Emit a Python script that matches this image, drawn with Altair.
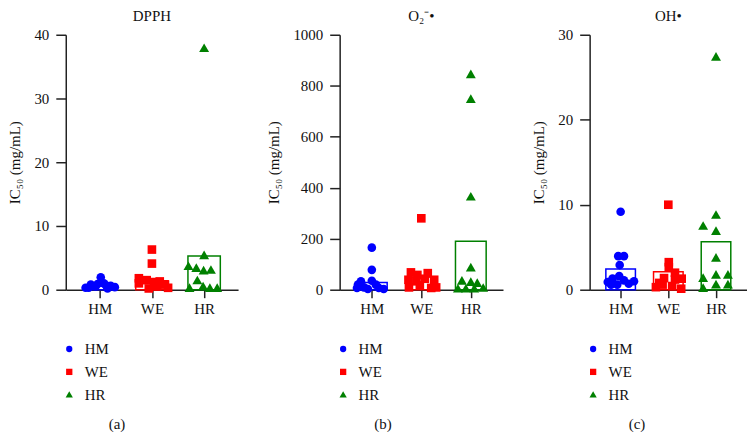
import altair as alt
import pandas as pd

groups = ['HM', 'WE', 'HR']
colors = ['#0000ff', '#ff0000', '#008000']
shapes = ['circle', 'square', 'M0,-1.1L1.15,0.9L-1.15,0.9Z']

# DPPH - IC50 values per sample and horizontal scatter (fraction of group spacing)
dpph_hm = [1.96, 0.3, 0.8, 0.5, 1.0, 0.2, 0.6, 0.4, 0.3, 0.7, 0.9]
dpph_hm_jit = [0.02, -0.27, -0.17, -0.08, 0.08, 0.15, 0.21, 0.29, -0.21, 0.12, -0.04]
dpph_we = [6.3, 4.1, 1.8, 1.5, 1.2, 1.3, 1.0, 0.8, 0.5, 0.2, 0.3]
dpph_we_jit = [0.0, 0.0, -0.25, -0.1, 0.04, 0.15, -0.25, 0.25, 0.1, -0.06, 0.31]
dpph_hr = [37.9, 5.4, 3.7, 3.4, 3.0, 3.1, 1.45, 0.26, 0.52, 0.26, 0.26]
dpph_hr_jit = [0.0, 0.0, -0.3, -0.15, -0.01, 0.13, -0.13, -0.28, -0.02, 0.11, 0.25]
dpph_bar = [0.6, 1.4, 5.3]

# O2-
o2_hm = [165, 78, 33, 35, 7, 9, 7, 3, 3, 20, 20]
o2_hm_jit = [0.0, 0.0, -0.22, 0.0, -0.3, -0.16, 0.14, 0.24, -0.08, 0.08, -0.28]
o2_we = [280, 68, 58, 65, 39, 33, 43, 39, 9, 17, 7, 9]
o2_we_jit = [0.0, -0.21, -0.08, 0.13, -0.26, -0.1, 0.07, 0.26, -0.25, -0.03, 0.2, 0.3]
o2_hr = [845, 748, 365, 87, 35, 30, 26, 7, 4, 4, 4]
o2_hr_jit = [0.0, 0.0, 0.0, 0.0, -0.18, 0.0, 0.13, 0.25, -0.26, -0.1, 0.07]
o2_bar = [28, 50, 190]

# OH
oh_hm = [9.18, 3.95, 3.95, 2.9, 0.9, 1.3, 1.6, 1.1, 0.6, 0.7, 1.0, 0.6]
oh_hm_jit = [0.0, -0.05, 0.07, -0.02, -0.27, -0.17, -0.03, 0.07, -0.07, 0.17, 0.28, -0.2]
oh_we = [10.0, 3.24, 2.66, 2.0, 1.37, 1.2, 1.3, 0.3, 0.6, 0.43, 0.12, 0.8]
oh_we_jit = [0.0, 0.01, 0.01, 0.14, -0.09, 0.14, 0.28, -0.26, -0.12, 0.08, 0.27, -0.19]
oh_hr = [27.4, 8.8, 7.5, 6.9, 3.75, 1.76, 1.76, 1.37, 0.6, 0.6, 0.2]
oh_hr_jit = [0.0, 0.0, -0.27, 0.0, 0.0, 0.0, 0.25, -0.27, 0.0, 0.25, -0.27]
oh_bar = [2.45, 2.1, 5.65]

FONT = 'Liberation Serif'


def points_df(series):
    rows = []
    for i, (vals, jit) in enumerate(series):
        for v, j in zip(vals, jit):
            rows.append({'group': groups[i], 'pos': i + 1, 'jit': j, 'value': v})
    return pd.DataFrame(rows)


def panel(title, series, bars, ymax, ystep, caption, capx, width):
    pts = points_df(series)
    bar_df = pd.DataFrame({'group': groups, 'pos': [1, 2, 3], 'value': bars, 'col': colors})
    xscale = alt.Scale(domain=[0.35, 3.65], nice=False, zero=False)
    yscale = alt.Scale(domain=[0, ymax], nice=False)
    xaxis = alt.Axis(values=[1, 2, 3], labelExpr="['', 'HM', 'WE', 'HR'][datum.value]",
                     grid=False, title=caption, titleX=capx, titleY=139,
                     titleBaseline='alphabetic', titleFontWeight='normal',
                     tickSize=8, labelPadding=4, labelFontSize=15, titleFontSize=15,
                     labelFont=FONT, titleFont=FONT)
    yaxis = alt.Axis(values=list(range(0, ymax + 1, ystep)), format='d', grid=False,
                     title='IC₅₀ (mg/mL)', titlePadding=11, tickSize=10, labelPadding=7,
                     labelFontSize=15, titleFontSize=15, labelFont=FONT, titleFont=FONT,
                     titleFontWeight='normal')
    leg = alt.Legend(title=None, orient='none', legendX=-4, legendY=308,
                     symbolSize=40, labelFontSize=15, labelFont=FONT, rowPadding=7,
                     labelOffset=8, padding=0)
    bar = alt.Chart(bar_df).mark_rect(filled=False, strokeWidth=1.5).transform_calculate(
        x1='datum.pos - 0.31', x2='datum.pos + 0.31').encode(
        x=alt.X('x1:Q', scale=xscale, axis=xaxis),
        x2='x2:Q',
        y=alt.Y('value:Q', scale=yscale, axis=yaxis),
        y2=alt.Y2(datum=0),
        stroke=alt.Stroke('col:N', scale=None))
    pt = alt.Chart(pts).mark_point(filled=True, size=75, opacity=1).transform_calculate(
        x='datum.pos + datum.jit').encode(
        x=alt.X('x:Q', scale=xscale),
        y=alt.Y('value:Q', scale=yscale),
        color=alt.Color('group:N', scale=alt.Scale(domain=groups, range=colors), legend=leg),
        shape=alt.Shape('group:N', scale=alt.Scale(domain=groups, range=shapes), legend=leg))
    return alt.layer(bar, pt).properties(
        width=width, height=256,
        title=alt.TitleParams(title, fontSize=15, fontWeight='normal', font=FONT,
                              offset=4, frame='group', anchor='middle'))


a = panel('DPPH', [(dpph_hm, dpph_hm_jit), (dpph_we, dpph_we_jit), (dpph_hr, dpph_hr_jit)],
          dpph_bar, 40, 10, '(a)', 51, 173)
b = panel('O₂⁻•', [(o2_hm, o2_hm_jit), (o2_we, o2_we_jit), (o2_hr, o2_hr_jit)],
          o2_bar, 1000, 200, '(b)', 43, 164)
c = panel('OH•', [(oh_hm, oh_hm_jit), (oh_we, oh_we_jit), (oh_hr, oh_hr_jit)],
          oh_bar, 30, 10, '(c)', 47, 158)

chart = alt.hconcat(a, b, c, spacing=29).resolve_scale(
    color='independent', shape='independent'
).resolve_legend(color='independent', shape='independent').properties(
    padding=0
).configure_view(stroke=None).configure_axis(
    domainColor='#222', domainWidth=1.5, tickColor='#222', tickWidth=1.5,
    labelColor='#111', titleColor='#111'
).configure_legend(labelColor='#111').configure_title(color='#111')

chart.save('out.html', embed_options={'renderer': 'svg', 'actions': False})
